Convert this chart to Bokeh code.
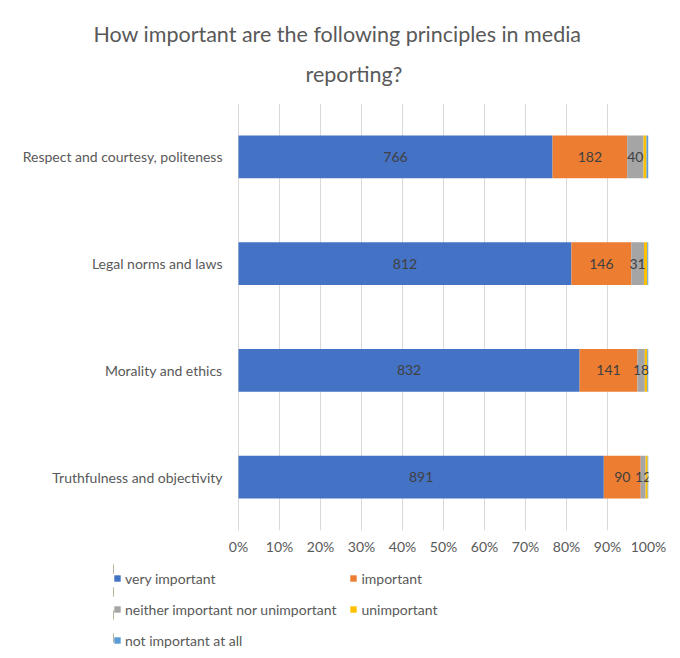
import pandas as pd
from bokeh.plotting import figure
from bokeh.layouts import column
from bokeh.models import (FactorRange, LabelSet, ColumnDataSource, Legend, LegendItem,
                          NumeralTickFormatter, FixedTicker, Title, Range1d)
from bokeh.core.properties import value
from bokeh.embed import file_html
from bokeh.resources import INLINE

# ---- data ----
categories = ["Respect and courtesy, politeness", "Legal norms and laws",
              "Morality and ethics", "Truthfulness and objectivity"]
very_important = [766, 812, 832, 891]
important = [182, 146, 141, 90]
neither = [40, 31, 18, 12]
unimportant = [7, 8, 6, 5]
not_at_all = [5, 3, 3, 2]
series_names = ["very important", "important", "neither important nor unimportant",
                "unimportant", "not important at all"]
x_ticks = [0, 0.1, 0.2, 0.3, 0.4, 0.5, 0.6, 0.7, 0.8, 0.9, 1.0]
title_line1 = "How important are the following principles in media"
title_line2 = "reporting?"

colors = ["#4472C4", "#ED7D31", "#A5A5A5", "#FFC000", "#5B9BD5"]
FONT = "Lato"
TXT = "#595959"

# layout constants (pixels)
FRAME_LEFT = 113      # frame starts where the legend starts
ZERO_PX = 238         # where 0% sits
HUNDRED_PX = 648      # where 100% sits
FRAME_TOP = 103
FRAME_BOTTOM = 530
px_per_unit = HUNDRED_PX - ZERO_PX

keys = ["s0", "s1", "s2", "s3", "s4"]
df = pd.DataFrame({"cat": categories, "s0": very_important, "s1": important,
                   "s2": neither, "s3": unimportant, "s4": not_at_all})
counts = df[keys].copy()
total = counts.sum(axis=1)
for k in keys:
    df[k] = counts[k] / total
src = ColumnDataSource(df)

p = figure(y_range=FactorRange(factors=list(reversed(categories))),
           x_range=Range1d(-(ZERO_PX - FRAME_LEFT) / px_per_unit, 1.0),
           frame_width=HUNDRED_PX - FRAME_LEFT, frame_height=FRAME_BOTTOM - FRAME_TOP,
           output_backend="svg", toolbar_location=None,
           min_border_left=FRAME_LEFT, min_border_right=672 - HUNDRED_PX,
           min_border_top=FRAME_TOP, min_border_bottom=0)
p.title = None

renderers = p.hbar_stack(keys, y="cat", height=0.4, color=colors, source=src, line_width=0)

# data labels for the first three series
cum = pd.Series([0.0] * len(df))
lx, ly, lt = [], [], []
for i, k in enumerate(keys):
    mid = cum + df[k] / 2
    if i < 3:
        for j in range(len(df)):
            lx.append(mid[j]); ly.append(df["cat"][j]); lt.append(str(counts[k][j]))
    cum = cum + df[k]
lab_src = ColumnDataSource(dict(x=lx, y=ly, t=lt))
p.add_layout(LabelSet(x="x", y="y", text="t", source=lab_src, text_align="center",
                      text_baseline="middle", text_color="#404040",
                      text_font_size="14px", text_font=value(FONT)))

# axes / grid
p.ygrid.visible = False
p.xgrid.grid_line_color = "#D9D9D9"
p.xaxis.ticker = FixedTicker(ticks=x_ticks)
p.xaxis.formatter = NumeralTickFormatter(format="0%")
for ax in (p.xaxis, p.yaxis):
    ax.axis_line_color = None
    ax.major_tick_line_color = None
    ax.minor_tick_line_color = None
    ax.major_tick_out = 0
    ax.major_tick_in = 0
    ax.major_label_text_color = TXT
    ax.major_label_text_font = FONT
    ax.major_label_text_font_size = "14px"
p.xaxis.major_label_standoff = 7
# category labels end 16px left of the 0% line
p.yaxis.major_label_standoff = -(ZERO_PX - 16 - FRAME_LEFT)
p.outline_line_color = None

# title (two lines, centred on the whole chart)
p.add_layout(Title(text=title_line2, align="left", offset=305 - FRAME_LEFT, text_font=FONT,
                   text_font_size="21.5px", text_font_style="normal", text_color=TXT,
                   vertical_align="top", standoff=29), "above")
p.add_layout(Title(text=title_line1, align="left", offset=93 - FRAME_LEFT, text_font=FONT,
                   text_font_size="21.5px", text_font_style="normal", text_color=TXT,
                   vertical_align="bottom", standoff=0), "above")

# legend strip below the chart (its frame is aligned with the chart's frame)
lg = figure(y_range=FactorRange(factors=list(reversed(categories))), x_range=Range1d(5, 6),
            frame_width=HUNDRED_PX - FRAME_LEFT, frame_height=92,
            output_backend="svg", toolbar_location=None,
            min_border_left=FRAME_LEFT, min_border_right=672 - HUNDRED_PX,
            min_border_top=0, min_border_bottom=0)
lg.title = None
for ax in (lg.xaxis, lg.yaxis):
    ax.visible = False
    ax.axis_line_color = None
    ax.major_tick_line_color = None
    ax.minor_tick_line_color = None
    ax.major_label_text_alpha = 0
lg.xgrid.grid_line_color = None
lg.ygrid.grid_line_color = None
lg.grid.visible = False
lg.outline_line_color = None
lg_renderers = lg.hbar_stack(keys, y="cat", height=0.4, color=colors, source=src,
                             line_width=0, line_alpha=0)

items = [LegendItem(label=n, renderers=[r]) for n, r in zip(series_names, lg_renderers)]
legend = Legend(items=items, location=(0, 0), orientation="horizontal", ncols=2,
                glyph_width=8, glyph_height=8, label_height=18, label_width=210,
                label_standoff=4, spacing=13, padding=0, margin=0,
                border_line_color=None, border_line_alpha=0, background_fill_alpha=0,
                label_text_font=FONT, label_text_font_size="14px", label_text_color=TXT)
lg.add_layout(legend)

layout = column(p, lg, spacing=0)
open("out.html", "w").write(file_html(layout, INLINE))
